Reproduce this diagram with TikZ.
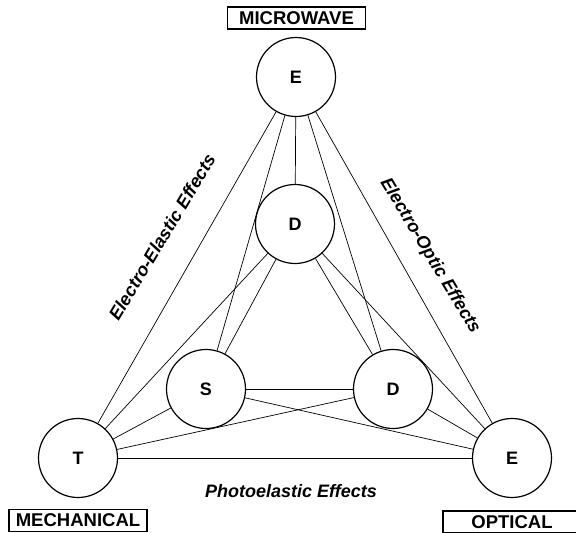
\documentclass[tikz,border=0pt]{standalone}
\usepackage{fontspec}
\setmainfont{Liberation Sans}
\usetikzlibrary{positioning}
\tikzset{
        state/.style={circle,draw,line width=1.2pt,fill=white,minimum size=79pt,inner sep=0pt,font=\fontsize{18}{18}\selectfont\bfseries},
        band/.style={draw,line width=1.1pt,minimum width=138pt,minimum height=22pt,inner sep=0pt,font=\fontsize{18.5}{18.5}\selectfont\bfseries},
        effect/.style={font=\fontsize{18}{18}\selectfont\bfseries\itshape},
        link/.style={line width=0.7pt},
        }

\begin{document}
\begin{tikzpicture}[x=1pt,y=-1pt]
	\useasboundingbox (0,0) rectangle (576,533);

	% field circles.....................
	\node [state] (Em) at (296,77) {E};
	\node [state] (Dm) at (295,224) {D};
	\node [state] (S) at (206,389) {S};
	\node [state] (Do) at (393,389) {D};
	\node [state] (T) at (78,458) {T};
	\node [state] (Eo) at (512,458) {E};

	% every pair joined......................
	\foreach \a/\b in {Em/Dm,Em/S,Em/Do,Em/T,Em/Eo,Dm/S,Dm/Do,Dm/T,Dm/Eo,S/Do,S/T,S/Eo,Do/T,Do/Eo,T/Eo}
		\draw [link] (\a) -- (\b);

	% domain boxes..............................
	\node [band] (mw) at (296.5,18) {MICROWAVE};
	\node [band] (mech) at (78,520.5) {MECHANICAL};
	\node [band] (opt) at (512,522) {OPTICAL};

	% effect labels..............................
	\node [effect,rotate=59] at (162,237) {Electro-Elastic Effects};
	\node [effect,rotate=-59] at (430,256) {Electro-Optic Effects};
	\node [effect] at (291,491) {Photoelastic Effects};
\end{tikzpicture}
\end{document}
